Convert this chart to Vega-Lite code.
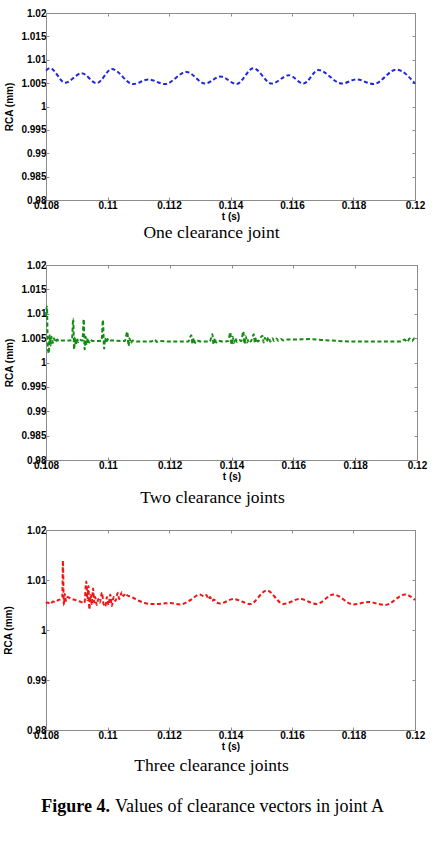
{
  "$schema": "https://vega.github.io/schema/vega-lite/v6.json",
  "padding": {"left": 3, "top": 7, "right": 8, "bottom": 0},
  "spacing": 17,
  "datasets": {
    "one": [
      {"t": 0.10800, "r": 1.0077}, {"t": 0.10813, "r": 1.0082}, {"t": 0.10862, "r": 1.0051},
      {"t": 0.10916, "r": 1.0071}, {"t": 0.10965, "r": 1.0050}, {"t": 0.11014, "r": 1.0080},
      {"t": 0.11084, "r": 1.0048}, {"t": 0.11133, "r": 1.0058}, {"t": 0.11187, "r": 1.0048},
      {"t": 0.11257, "r": 1.0074}, {"t": 0.11317, "r": 1.0049}, {"t": 0.11368, "r": 1.0064},
      {"t": 0.11420, "r": 1.0048}, {"t": 0.11474, "r": 1.0082}, {"t": 0.11534, "r": 1.0049},
      {"t": 0.11590, "r": 1.0067}, {"t": 0.11637, "r": 1.0049}, {"t": 0.11686, "r": 1.0078},
      {"t": 0.11762, "r": 1.0049}, {"t": 0.11810, "r": 1.0058}, {"t": 0.11865, "r": 1.0048},
      {"t": 0.11940, "r": 1.0079}, {"t": 0.12000, "r": 1.0049}
    ],
    "two": [
      {"t": 0.10800, "r": 1.0095}, {"t": 0.10803, "r": 1.0115}, {"t": 0.10806, "r": 1.0030},
      {"t": 0.10809, "r": 1.0019}, {"t": 0.10812, "r": 1.0056}, {"t": 0.10815, "r": 1.0035},
      {"t": 0.10818, "r": 1.0053}, {"t": 0.10822, "r": 1.0040}, {"t": 0.10826, "r": 1.0050},
      {"t": 0.10830, "r": 1.0042}, {"t": 0.10836, "r": 1.0047}, {"t": 0.10842, "r": 1.0044},
      {"t": 0.10850, "r": 1.0045}, {"t": 0.10870, "r": 1.0045}, {"t": 0.10884, "r": 1.0046},
      {"t": 0.10888, "r": 1.0090}, {"t": 0.10891, "r": 1.0027}, {"t": 0.10894, "r": 1.0052},
      {"t": 0.10897, "r": 1.0036}, {"t": 0.10900, "r": 1.0050}, {"t": 0.10904, "r": 1.0042},
      {"t": 0.10908, "r": 1.0047}, {"t": 0.10918, "r": 1.0045}, {"t": 0.10922, "r": 1.0089},
      {"t": 0.10925, "r": 1.0027}, {"t": 0.10928, "r": 1.0053}, {"t": 0.10931, "r": 1.0036},
      {"t": 0.10935, "r": 1.0050}, {"t": 0.10939, "r": 1.0041}, {"t": 0.10944, "r": 1.0047},
      {"t": 0.10950, "r": 1.0044}, {"t": 0.10980, "r": 1.0045}, {"t": 0.10984, "r": 1.0087},
      {"t": 0.10988, "r": 1.0028}, {"t": 0.10991, "r": 1.0050}, {"t": 0.10995, "r": 1.0040},
      {"t": 0.10999, "r": 1.0048}, {"t": 0.11004, "r": 1.0043}, {"t": 0.11010, "r": 1.0045},
      {"t": 0.11055, "r": 1.0044}, {"t": 0.11063, "r": 1.0063}, {"t": 0.11067, "r": 1.0034},
      {"t": 0.11070, "r": 1.0050}, {"t": 0.11074, "r": 1.0040}, {"t": 0.11080, "r": 1.0045},
      {"t": 0.11090, "r": 1.0043}, {"t": 0.11140, "r": 1.0043}, {"t": 0.11152, "r": 1.0047},
      {"t": 0.11158, "r": 1.0042}, {"t": 0.11165, "r": 1.0044}, {"t": 0.11200, "r": 1.0043},
      {"t": 0.11260, "r": 1.0043}, {"t": 0.11270, "r": 1.0056}, {"t": 0.11274, "r": 1.0038},
      {"t": 0.11278, "r": 1.0050}, {"t": 0.11282, "r": 1.0040}, {"t": 0.11288, "r": 1.0045},
      {"t": 0.11300, "r": 1.0043}, {"t": 0.11330, "r": 1.0043}, {"t": 0.11338, "r": 1.0058},
      {"t": 0.11342, "r": 1.0037}, {"t": 0.11346, "r": 1.0050}, {"t": 0.11350, "r": 1.0041},
      {"t": 0.11356, "r": 1.0045}, {"t": 0.11370, "r": 1.0043}, {"t": 0.11390, "r": 1.0044},
      {"t": 0.11396, "r": 1.0062}, {"t": 0.11400, "r": 1.0036}, {"t": 0.11404, "r": 1.0053},
      {"t": 0.11408, "r": 1.0040}, {"t": 0.11412, "r": 1.0050}, {"t": 0.11418, "r": 1.0042},
      {"t": 0.11425, "r": 1.0046}, {"t": 0.11432, "r": 1.0044}, {"t": 0.11438, "r": 1.0064},
      {"t": 0.11442, "r": 1.0038}, {"t": 0.11446, "r": 1.0054}, {"t": 0.11450, "r": 1.0041},
      {"t": 0.11456, "r": 1.0048}, {"t": 0.11462, "r": 1.0043}, {"t": 0.11472, "r": 1.0058},
      {"t": 0.11476, "r": 1.0040}, {"t": 0.11480, "r": 1.0051}, {"t": 0.11485, "r": 1.0043},
      {"t": 0.11500, "r": 1.0055}, {"t": 0.11504, "r": 1.0041}, {"t": 0.11508, "r": 1.0051},
      {"t": 0.11513, "r": 1.0043}, {"t": 0.11520, "r": 1.0052}, {"t": 0.11525, "r": 1.0043},
      {"t": 0.11532, "r": 1.0050}, {"t": 0.11538, "r": 1.0044}, {"t": 0.11545, "r": 1.0049},
      {"t": 0.11552, "r": 1.0044}, {"t": 0.11560, "r": 1.0048}, {"t": 0.11568, "r": 1.0045},
      {"t": 0.11578, "r": 1.0047}, {"t": 0.11600, "r": 1.0047}, {"t": 0.11650, "r": 1.0048},
      {"t": 0.11700, "r": 1.0046}, {"t": 0.11800, "r": 1.0043}, {"t": 0.11900, "r": 1.0043},
      {"t": 0.11950, "r": 1.0043}, {"t": 0.11960, "r": 1.0047}, {"t": 0.11968, "r": 1.0042},
      {"t": 0.11976, "r": 1.0049}, {"t": 0.11984, "r": 1.0044}, {"t": 0.11992, "r": 1.0050},
      {"t": 0.12000, "r": 1.0047}
    ],
    "three": [
      {"t": 0.10800, "r": 1.0053}, {"t": 0.10805, "r": 1.0055}, {"t": 0.10815, "r": 1.0052},
      {"t": 0.10822, "r": 1.0057}, {"t": 0.10830, "r": 1.0056}, {"t": 0.10840, "r": 1.0060},
      {"t": 0.10848, "r": 1.0062}, {"t": 0.10853, "r": 1.0066}, {"t": 0.10855, "r": 1.0139},
      {"t": 0.10858, "r": 1.0049}, {"t": 0.10861, "r": 1.0072}, {"t": 0.10865, "r": 1.0058},
      {"t": 0.10870, "r": 1.0066}, {"t": 0.10880, "r": 1.0063}, {"t": 0.10895, "r": 1.0060},
      {"t": 0.10910, "r": 1.0057}, {"t": 0.10925, "r": 1.0054}, {"t": 0.10931, "r": 1.0097},
      {"t": 0.10935, "r": 1.0060}, {"t": 0.10938, "r": 1.0088}, {"t": 0.10941, "r": 1.0041},
      {"t": 0.10945, "r": 1.0070}, {"t": 0.10949, "r": 1.0050}, {"t": 0.10953, "r": 1.0083},
      {"t": 0.10957, "r": 1.0055}, {"t": 0.10960, "r": 1.0066}, {"t": 0.10965, "r": 1.0050},
      {"t": 0.10970, "r": 1.0062}, {"t": 0.10975, "r": 1.0055}, {"t": 0.10982, "r": 1.0075},
      {"t": 0.10987, "r": 1.0052}, {"t": 0.10993, "r": 1.0047}, {"t": 0.10998, "r": 1.0066},
      {"t": 0.11003, "r": 1.0050}, {"t": 0.11009, "r": 1.0071}, {"t": 0.11014, "r": 1.0048},
      {"t": 0.11020, "r": 1.0066}, {"t": 0.11026, "r": 1.0058}, {"t": 0.11033, "r": 1.0074},
      {"t": 0.11038, "r": 1.0062}, {"t": 0.11043, "r": 1.0070}, {"t": 0.11047, "r": 1.0076},
      {"t": 0.11052, "r": 1.0068}, {"t": 0.11058, "r": 1.0073}, {"t": 0.11065, "r": 1.0069},
      {"t": 0.11075, "r": 1.0067}, {"t": 0.11085, "r": 1.0064}, {"t": 0.11100, "r": 1.0059},
      {"t": 0.11117, "r": 1.0055}, {"t": 0.11139, "r": 1.0052}, {"t": 0.11160, "r": 1.0052},
      {"t": 0.11182, "r": 1.0053}, {"t": 0.11204, "r": 1.0054}, {"t": 0.11236, "r": 1.0051},
      {"t": 0.11270, "r": 1.0060}, {"t": 0.11300, "r": 1.0071}, {"t": 0.11315, "r": 1.0067},
      {"t": 0.11322, "r": 1.0070}, {"t": 0.11328, "r": 1.0062}, {"t": 0.11334, "r": 1.0066},
      {"t": 0.11340, "r": 1.0058}, {"t": 0.11346, "r": 1.0061}, {"t": 0.11355, "r": 1.0055},
      {"t": 0.11366, "r": 1.0053}, {"t": 0.11410, "r": 1.0062}, {"t": 0.11464, "r": 1.0052},
      {"t": 0.11518, "r": 1.0079}, {"t": 0.11572, "r": 1.0052}, {"t": 0.11626, "r": 1.0062},
      {"t": 0.11680, "r": 1.0052}, {"t": 0.11735, "r": 1.0071}, {"t": 0.11800, "r": 1.0051},
      {"t": 0.11848, "r": 1.0056}, {"t": 0.11903, "r": 1.0050}, {"t": 0.11968, "r": 1.0071},
      {"t": 0.12000, "r": 1.0060}
    ],
    "caption": [
      {"lead": "Figure 4.", "rest": "Values of clearance vectors in joint A"}
    ]
  },
  "vconcat": [
    {
      "width": 369,
      "height": 187,
      "title": {"text": "One clearance joint", "orient": "bottom", "offset": 3, "dx": -19},
      "data": {"name": "one"},
      "layer": [
        {
          "mark": {"type": "line", "color": "#1e28dc", "strokeWidth": 2, "strokeDash": [4, 2.5], "interpolate": "monotone"},
          "encoding": {
            "x": {"field": "t", "type": "quantitative", "scale": {"domain": [0.108, 0.12], "nice": false, "zero": false},
                  "axis": {"values": [0.108, 0.11, 0.112, 0.114, 0.116, 0.118, 0.12], "format": ".3~f", "title": "t (s)"}},
            "y": {"field": "r", "type": "quantitative", "scale": {"domain": [0.98, 1.02], "nice": false, "zero": false},
                  "axis": {"values": [0.98, 0.985, 0.99, 0.995, 1, 1.005, 1.01, 1.015, 1.02], "format": ".3~f", "title": "RCA (mm)", "titlePadding": 6}}
          }
        },
        {
          "mark": {"type": "line", "opacity": 0},
          "encoding": {
            "x": {"field": "t", "type": "quantitative", "axis": {"orient": "top", "labels": false, "title": null, "values": [0.108, 0.11, 0.112, 0.114, 0.116, 0.118, 0.12]}},
            "y": {"field": "r", "type": "quantitative", "axis": {"orient": "right", "labels": false, "title": null, "values": [0.98, 0.985, 0.99, 0.995, 1, 1.005, 1.01, 1.015, 1.02]}}
          }
        }
      ],
      "resolve": {"axis": {"x": "independent", "y": "independent"}}
    },
    {
      "width": 371,
      "height": 195,
      "title": {"text": "Two clearance joints", "orient": "bottom", "offset": 7.5, "dx": -19},
      "data": {"name": "two"},
      "layer": [
        {
          "mark": {"type": "line", "color": "#138a13", "strokeWidth": 2, "strokeDash": [4, 2.5], "interpolate": "monotone"},
          "encoding": {
            "x": {"field": "t", "type": "quantitative", "scale": {"domain": [0.108, 0.12], "nice": false, "zero": false},
                  "axis": {"values": [0.108, 0.11, 0.112, 0.114, 0.116, 0.118, 0.12], "format": ".3~f", "title": "t (s)"}},
            "y": {"field": "r", "type": "quantitative", "scale": {"domain": [0.98, 1.02], "nice": false, "zero": false},
                  "axis": {"values": [0.98, 0.985, 0.99, 0.995, 1, 1.005, 1.01, 1.015, 1.02], "format": ".3~f", "title": "RCA (mm)", "titlePadding": 6}}
          }
        },
        {
          "mark": {"type": "line", "opacity": 0},
          "encoding": {
            "x": {"field": "t", "type": "quantitative", "axis": {"orient": "top", "labels": false, "title": null, "values": [0.108, 0.11, 0.112, 0.114, 0.116, 0.118, 0.12]}},
            "y": {"field": "r", "type": "quantitative", "axis": {"orient": "right", "labels": false, "title": null, "values": [0.98, 0.985, 0.99, 0.995, 1, 1.005, 1.01, 1.015, 1.02]}}
          }
        }
      ],
      "resolve": {"axis": {"x": "independent", "y": "independent"}}
    },
    {
      "width": 369,
      "height": 200,
      "title": {"text": "Three clearance joints", "orient": "bottom", "offset": 6, "dx": -19},
      "data": {"name": "three"},
      "layer": [
        {
          "mark": {"type": "line", "color": "#f01414", "strokeWidth": 2, "strokeDash": [4, 2.5], "interpolate": "monotone"},
          "encoding": {
            "x": {"field": "t", "type": "quantitative", "scale": {"domain": [0.108, 0.12], "nice": false, "zero": false},
                  "axis": {"values": [0.108, 0.11, 0.112, 0.114, 0.116, 0.118, 0.12], "format": ".3~f", "title": "t (s)"}},
            "y": {"field": "r", "type": "quantitative", "scale": {"domain": [0.98, 1.02], "nice": false, "zero": false},
                  "axis": {"values": [0.98, 0.99, 1, 1.01, 1.02], "format": ".2~f", "title": "RCA (mm)", "titlePadding": 13}}
          }
        },
        {
          "mark": {"type": "line", "opacity": 0},
          "encoding": {
            "x": {"field": "t", "type": "quantitative", "axis": {"orient": "top", "labels": false, "title": null, "values": [0.108, 0.11, 0.112, 0.114, 0.116, 0.118, 0.12]}},
            "y": {"field": "r", "type": "quantitative", "axis": {"orient": "right", "labels": false, "title": null, "values": [0.98, 0.99, 1, 1.01, 1.02]}}
          }
        }
      ],
      "resolve": {"axis": {"x": "independent", "y": "independent"}}
    },
    {
      "width": 334,
      "height": 30,
      "view": {"stroke": null},
      "data": {"name": "caption"},
      "layer": [
        {
          "mark": {"type": "text", "font": "Liberation Serif", "fontSize": 18, "fontWeight": "bold", "align": "right", "dx": -103, "color": "black"},
          "encoding": {"text": {"field": "lead"}}
        },
        {
          "mark": {"type": "text", "font": "Liberation Serif", "fontSize": 18, "fontWeight": "normal", "align": "left", "dx": -98, "color": "black"},
          "encoding": {"text": {"field": "rest"}}
        }
      ]
    }
  ],
  "config": {
    "view": {"stroke": "#8c8c8c", "strokeWidth": 1},
    "axis": {
      "domainColor": "#8c8c8c",
      "tickColor": "#8c8c8c",
      "tickSize": -3,
      "grid": false,
      "labelFlush": false,
      "labelOverlap": false,
      "labelFont": "Liberation Sans",
      "labelFontWeight": "bold",
      "labelFontSize": 10,
      "labelColor": "black",
      "labelPadding": 3,
      "titleFont": "Liberation Sans",
      "titleFontWeight": "bold",
      "titleFontSize": 10,
      "titleColor": "black",
      "titlePadding": 1
    },
    "title": {"font": "Liberation Serif", "fontSize": 17.5, "fontWeight": "normal", "color": "black"}
  }
}
